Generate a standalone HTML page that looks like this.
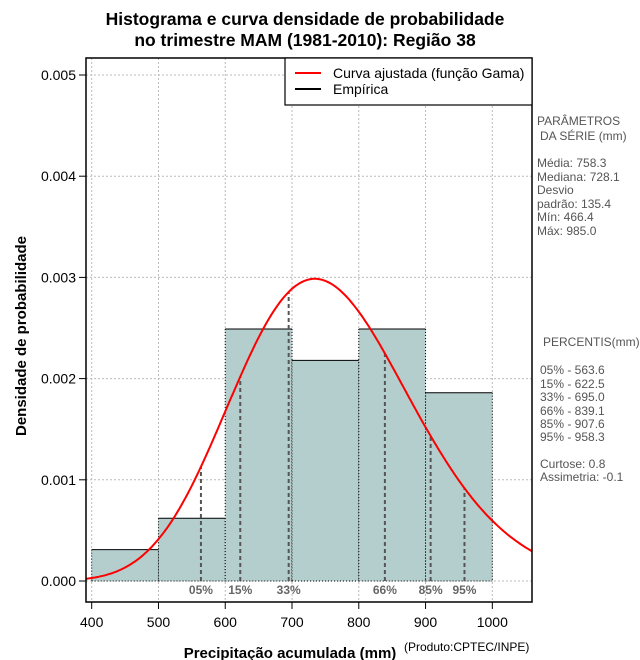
<!DOCTYPE html>
<html><head><meta charset="utf-8"><style>
body{margin:0;background:#fff;}
svg{display:block;font-family:"Liberation Sans",sans-serif;}
.side{font-size:12px;fill:#555;white-space:pre;}
</style></head><body>
<svg id="c" width="640" height="660">
<text x="305" y="25" text-anchor="middle" font-size="17.5" font-weight="bold">Histograma e curva densidade de probabilidade</text>
<text x="305" y="46" text-anchor="middle" font-size="17.5" font-weight="bold">no trimestre MAM (1981-2010): Região 38</text>
<g id="grid"></g><g id="bars"></g><g id="pct"></g>
<clipPath id="clip"><rect x="86" y="58" width="446" height="544"/></clipPath>
<path id="curve" fill="none" stroke="#f00" stroke-width="2" clip-path="url(#clip)"/>
<rect x="86" y="58" width="446" height="544" fill="none" stroke="#000" stroke-width="1.5"/>
<g id="axes"></g>
<g>
<rect x="285" y="58" width="247" height="47" fill="#fff" stroke="#000" stroke-width="1.2"/>
<line x1="295" y1="73" x2="321" y2="73" stroke="#f00" stroke-width="2"/>
<text x="333" y="78" font-size="14">Curva ajustada (função Gama)</text>
<line x1="295" y1="89" x2="321" y2="89" stroke="#000" stroke-width="2"/>
<text x="333" y="94" font-size="14">Empírica</text>
</g>
<text x="20" y="330" transform="rotate(-90 26 330)" text-anchor="middle" font-size="15" font-weight="bold">Densidade de probabilidade</text>
<text x="290" y="658" text-anchor="middle" font-size="15" font-weight="bold">Precipitação acumulada (mm)</text>
<text x="404" y="651" font-size="12">(Produto:CPTEC/INPE)</text>
<g class="side">
<text x="537" y="125">PARÂMETROS</text><text x="540" y="140">DA SÉRIE (mm)</text>
<text x="537" y="167">Média:  758.3</text><text x="537" y="181">Mediana:  728.1</text>
<text x="537" y="194">Desvio</text><text x="537" y="208">padrão:  135.4</text>
<text x="537" y="221">Mín:  466.4</text><text x="537" y="235">Máx:  985.0</text>
<text x="543" y="346">PERCENTIS(mm)</text>
<text x="540" y="374">05% -   563.6</text><text x="540" y="388">15% -   622.5</text>
<text x="540" y="401">33% -   695.0</text><text x="540" y="415">66% -   839.1</text>
<text x="540" y="428">85% -   907.6</text><text x="540" y="441">95% -   958.3</text>
<text x="540" y="468">Curtose:  0.8</text><text x="540" y="481">Assimetria:  -0.1</text>
</g>
</svg>
<script>
const binStarts=[400,500,600,700,800,900];
const binWidth=100;
const densities=[0.00031,0.00062,0.00249,0.00218,0.00249,0.00186];
const pctLabels=["05%","15%","33%","66%","85%","95%"];
const pctValues=[563.6,622.5,695.0,839.1,907.6,958.3];
const fitMean=[758.3];
const fitSd=[135.4];
const xTicks=[400,500,600,700,800,900,1000];
const yTicks=[0,0.001,0.002,0.003,0.004,0.005];
const yTickLabels=["0.000","0.001","0.002","0.003","0.004","0.005"];
const NS="http://www.w3.org/2000/svg";
const X=v=>91.7+(v-400)*0.6677;
const Y=d=>581-d*101200;
function mk(t,a,p){const e=document.createElementNS(NS,t);for(const k in a)e.setAttribute(k,a[k]);p.appendChild(e);return e;}
const k=(fitMean[0]/fitSd[0])**2, th=fitSd[0]**2/fitMean[0];
function lgamma(z){const g=[76.18009172947146,-86.50532032941677,24.01409824083091,-1.231739572450155,0.1208650973866179e-2,-0.5395239384953e-5];let x=z,y=z,t=x+5.5;t-=(x+0.5)*Math.log(t);let s=1.000000000190015;for(let j=0;j<6;j++)s+=g[j]/++y;return -t+Math.log(2.5066282746310005*s/x);}
const pdf=v=>Math.exp((k-1)*Math.log(v)-v/th-lgamma(k)-k*Math.log(th));
const grid=document.getElementById('grid'),bars=document.getElementById('bars'),pct=document.getElementById('pct'),axes=document.getElementById('axes');
xTicks.forEach(v=>{const l=mk('line',{x1:X(v),x2:X(v),y1:58,y2:602,stroke:'#bbb','stroke-dasharray':'2,2'},grid);

mk('line',{x1:X(v),x2:X(v),y1:602,y2:609,stroke:'#000'},axes);
const tx=mk('text',{x:X(v),y:627,'text-anchor':'middle','font-size':14},axes);tx.textContent=v;
});
yTicks.forEach((v,i)=>{const l=mk('line',{x1:86,x2:532,y1:Y(v),y2:Y(v),stroke:'#bbb','stroke-dasharray':'2,2'},grid);

mk('line',{x1:79,x2:86,y1:Y(v),y2:Y(v),stroke:'#000'},axes);
const tx=mk('text',{x:76,y:Y(v)+5,'text-anchor':'end','font-size':14},axes);tx.textContent=yTickLabels[i];
});
binStarts.forEach((s,i)=>{const x0=X(s),x1=X(s+binWidth),y=Y(densities[i]);
const r=mk('rect',{x:x0,y:y,width:x1-x0,height:Y(0)-y,fill:'#b4cece'},bars);

mk('line',{x1:x0,x2:x1,y1:y,y2:y,stroke:'#000'},bars);
mk('line',{x1:x0,x2:x0,y1:y,y2:Y(0),stroke:'#000','stroke-dasharray':'1,2'},bars);
mk('line',{x1:x1,x2:x1,y1:y,y2:Y(0),stroke:'#000','stroke-dasharray':'1,2'},bars);
mk('line',{x1:x0,x2:x1,y1:Y(0),y2:Y(0),stroke:'#000','stroke-dasharray':'1,2'},bars);});
pctValues.forEach((v,i)=>{const l=mk('line',{x1:X(v),x2:X(v),y1:Y(0),y2:Y(pdf(v)),stroke:'#555','stroke-width':2,'stroke-dasharray':'4,3'},pct);

const t=mk('text',{x:X(v),y:594,'text-anchor':'middle','font-size':12,'font-weight':'bold',fill:'#666'},pct);t.textContent=pctLabels[i];
});
let d='';for(let v=390;v<=1070;v+=3){d+=(d?'L':'M')+X(v).toFixed(1)+','+Y(pdf(v)).toFixed(1);}
document.getElementById('curve').setAttribute('d',d);
</script>
</body></html>
